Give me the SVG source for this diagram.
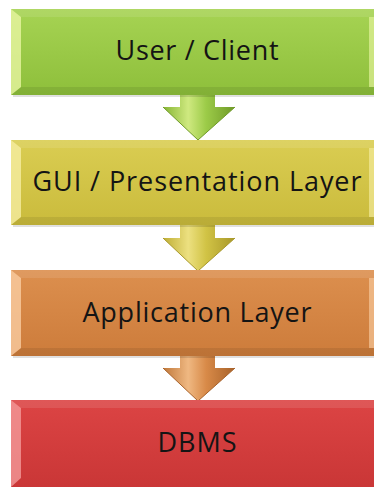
<svg xmlns="http://www.w3.org/2000/svg" width="374" height="487" viewBox="0 0 374 487">
<defs>
<linearGradient id="gGreen" x1="0" y1="0" x2="0" y2="1"><stop offset="0" stop-color="#a6d353"/><stop offset="1" stop-color="#8ebf3b"/></linearGradient>
<linearGradient id="gYellow" x1="0" y1="0" x2="0" y2="1"><stop offset="0" stop-color="#dacd52"/><stop offset="1" stop-color="#cabb3c"/></linearGradient>
<linearGradient id="gOrange" x1="0" y1="0" x2="0" y2="1"><stop offset="0" stop-color="#dc8f4e"/><stop offset="1" stop-color="#cd7c3b"/></linearGradient>
<linearGradient id="gRed" x1="0" y1="0" x2="0" y2="1"><stop offset="0" stop-color="#dc4444"/><stop offset="1" stop-color="#c93636"/></linearGradient>
<linearGradient id="aGreen" x1="0" y1="0" x2="1" y2="0"><stop offset="0" stop-color="#86b534"/><stop offset="0.35" stop-color="#cfe980"/><stop offset="0.6" stop-color="#9ccb48"/><stop offset="1" stop-color="#6f9a28"/></linearGradient>
<linearGradient id="aYellow" x1="0" y1="0" x2="1" y2="0"><stop offset="0" stop-color="#bfae35"/><stop offset="0.35" stop-color="#ece080"/><stop offset="0.6" stop-color="#d1c345"/><stop offset="1" stop-color="#a8982a"/></linearGradient>
<linearGradient id="aOrange" x1="0" y1="0" x2="1" y2="0"><stop offset="0" stop-color="#c0783a"/><stop offset="0.35" stop-color="#efb882"/><stop offset="0.6" stop-color="#d88a48"/><stop offset="1" stop-color="#a8622a"/></linearGradient>
</defs>
<style>
.lbl{font-family:"Open Sans","Noto Sans","Liberation Sans",sans-serif;font-size:27px;fill:#141414;text-anchor:middle}
.sh{fill:#000;opacity:0.12}
.bl{opacity:0.75}
.bd{fill:#000;opacity:0.08}
.bt{fill:#fff;opacity:0.1}
</style>
<g id="connectors">
<g id="arrow1">
<path d="M180,90 H215 V107 H235 L198,140 L163,107 H180 Z" fill="url(#aGreen)"/>
<path d="M163,107 L198,140 L235,107" fill="none" stroke="#6f9a28" stroke-width="1"/>
</g>
<g id="arrow2">
<path d="M180,221 H215 V238 H235 L198,271 L163,238 H180 Z" fill="url(#aYellow)"/>
<path d="M163,238 L198,271 L235,238" fill="none" stroke="#a8982a" stroke-width="1"/>
</g>
<g id="arrow3">
<path d="M180,352 H215 V368 H235 L198,401 L163,368 H180 Z" fill="url(#aOrange)"/>
<path d="M163,368 L198,401 L235,368" fill="none" stroke="#a8622a" stroke-width="1"/>
</g>
</g>
<g id="node-user">
<rect x="13" y="11" width="375" height="86" class="sh"/>
<rect x="11" y="9" width="375" height="86" fill="url(#gGreen)"/>
<polygon points="11,9 386,9 376,17 21,17" class="bt"/>
<polygon points="11,95 386,95 376,87 21,87" class="bd"/>
<polygon points="11,9 21,17 21,87 11,95" fill="#eef8a8" class="bl"/>
<rect x="369" y="17" width="5" height="70" fill="#eef8a8" opacity="0.6"/>
<text x="197" y="60" class="lbl" textLength="163">User / Client</text>
</g>
<g id="node-gui">
<rect x="13" y="142" width="375" height="85" class="sh"/>
<rect x="11" y="140" width="375" height="85" fill="url(#gYellow)"/>
<polygon points="11,140 386,140 376,148 21,148" class="bt"/>
<polygon points="11,225 386,225 376,217 21,217" class="bd"/>
<polygon points="11,140 21,148 21,217 11,225" fill="#f8f0a8" class="bl"/>
<rect x="369" y="148" width="5" height="69" fill="#f8f0a8" opacity="0.6"/>
<text x="197" y="191" class="lbl" textLength="329">GUI / Presentation Layer</text>
</g>
<g id="node-app">
<rect x="13" y="272" width="375" height="86" class="sh"/>
<rect x="11" y="270" width="375" height="86" fill="url(#gOrange)"/>
<polygon points="11,270 386,270 376,278 21,278" class="bt"/>
<polygon points="11,356 386,356 376,348 21,348" class="bd"/>
<polygon points="11,270 21,278 21,348 11,356" fill="#fcd2a8" class="bl"/>
<rect x="369" y="278" width="5" height="70" fill="#fcd2a8" opacity="0.6"/>
<text x="197" y="322" class="lbl" textLength="229">Application Layer</text>
</g>
<g id="node-dbms">
<rect x="11" y="400" width="375" height="90" fill="url(#gRed)"/>
<polygon points="11,400 386,400 376,408 21,408" class="bt"/>
<polygon points="11,400 21,408 21,478 11,487" fill="#f5a0a0" class="bl"/>
<text x="197" y="452" class="lbl" textLength="79">DBMS</text>
</g>
</svg>
